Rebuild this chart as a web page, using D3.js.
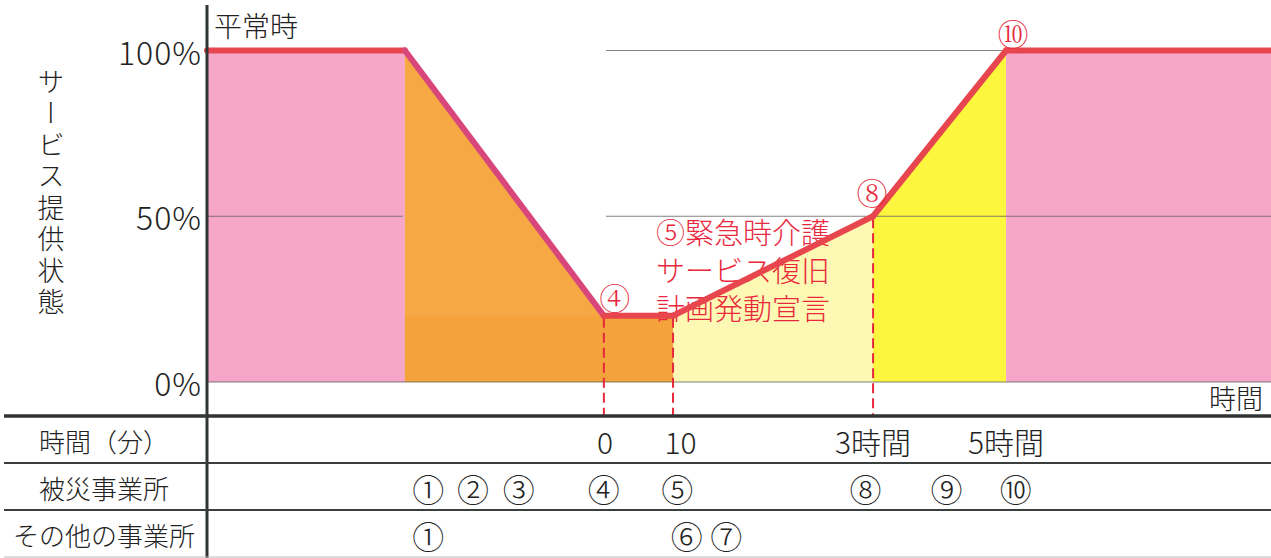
<!DOCTYPE html>
<html><head><meta charset="utf-8">
<script src="https://cdn.jsdelivr.net/npm/d3@7"></script>
<style>
html,body{margin:0;padding:0;background:#fff;}
svg{display:block;font-family:"Noto Sans CJK JP","Noto Sans",sans-serif;font-weight:300;}
</style></head>
<body><svg id="chart" width="1271" height="558"></svg>
<script>
// ---- data ----
const pointNames   = ["開始", "①", "④", "⑤", "⑧", "⑩", "終了"];
const pointTime    = [0, 18.6, 37.3, 43.8, 62.6, 75.1, 100];   // relative time position
const serviceLevel = [100, 100, 20, 20, 50, 100, 100];          // % service provision

const regionNames = ["平常時", "初動", "緊急対応", "復旧", "平常時"];
const regionFrom  = [0, 1, 3, 4, 5];
const regionTo    = [1, 3, 4, 5, 6];

const yTicks = [0, 50, 100];
const gridLevel = [100, 50, 50, 0];
const gridFrom  = [37.5, 0, 37.5, 0];
const gridTo    = [75.1, 18.4, 100, 100];

const dashedAt = [2, 3, 4];   // indices into points

const markerLabels = ["④", "⑧", "⑩"];
const markerPoint  = [2, 4, 5];

const noteLines = ["⑤緊急時介護", "サービス復旧", "計画発動宣言"];

const rowLabels = ["時間（分）", "被災事業所", "その他の事業所"];
const timeTickLabels = ["0", "10", "3時間", "5時間"];
const timeTickPos    = [37.4, 44.5, 62.6, 75.1];
const affectedLabels = ["①", "②", "③", "④", "⑤", "⑧", "⑨", "⑩"];
const affectedPos    = [20.8, 25.0, 29.3, 37.3, 44.2, 61.9, 69.5, 76.0];
const otherLabels = ["①", "⑥", "⑦"];
const otherPos    = [20.8, 45.1, 48.8];

// ---- styles ----
const regionColors = ["#f5a6c9", "#f5a843", "#fdf8b4", "#fdf63e", "#f5a6c9"];
const segColors = ["#e8464e", "#d9467c", "#e8464e", "#e8464e", "#e8464e", "#e8464e"];
const red = "#e8283c";

// ---- layout ----
const svg = d3.select("#chart");
const x = d3.scaleLinear().domain([0, 100]).range([207, 1271]);
const y = d3.scaleLinear().domain([0, 100]).range([382, 50.5]);
const axisBottom = 416;
const rowY = [416, 463, 510, 557];

const pts = pointTime.map((t, i) => ({t, v: serviceLevel[i], name: pointNames[i]}));

// regions
const area = d3.area().x(d => x(d.t)).y0(y(0)).y1(d => y(d.v));
regionNames.forEach((n, i) => {
  svg.append("path")
    .datum(pts.slice(regionFrom[i], regionTo[i] + 1))
    .attr("d", area)
    .attr("fill", regionColors[i]);
});
// lower shade of the initial-response region (below the 20% floor)
svg.append("rect")
  .attr("x", x(pointTime[1])).attr("width", x(pointTime[3]) - x(pointTime[1]))
  .attr("y", y(serviceLevel[2])).attr("height", y(0) - y(serviceLevel[2]))
  .attr("fill", "#f3a23c");

// gridlines
gridLevel.forEach((lv, i) => {
  svg.append("line")
    .attr("x1", x(gridFrom[i])).attr("x2", x(gridTo[i]))
    .attr("y1", y(lv)).attr("y2", y(lv))
    .attr("stroke", "#5a5a5a").attr("stroke-opacity", 0.75).attr("stroke-width", 1.2);
});

// dashed lines
dashedAt.forEach(i => {
  svg.append("line")
    .attr("x1", x(pointTime[i])).attr("x2", x(pointTime[i]))
    .attr("y1", y(serviceLevel[i]) + 2).attr("y2", axisBottom)
    .attr("stroke", red).attr("stroke-width", 2).attr("stroke-dasharray", "10,5");
});

// note text (behind the line)
const note = svg.append("text")
  .attr("fill", red).attr("font-size", 29);
noteLines.forEach((s, i) => {
  note.append("tspan").attr("x", 656).attr("y", 244 + i * 38).text(s);
});

// service line
for (let i = 0; i < pts.length - 1; i++) {
  svg.append("line")
    .attr("x1", x(pts[i].t)).attr("y1", y(pts[i].v))
    .attr("x2", x(pts[i + 1].t)).attr("y2", y(pts[i + 1].v))
    .attr("stroke", segColors[i]).attr("stroke-width", 6)
    .attr("stroke-linecap", "round");
}

// marker labels
const markerOffset = [[11, -19], [-1, -25], [7, -18]];
markerLabels.forEach((m, i) => {
  const p = pts[markerPoint[i]];
  svg.append("text")
    .attr("x", x(p.t) + markerOffset[i][0]).attr("y", y(p.v) + markerOffset[i][1])
    .attr("text-anchor", "middle").attr("dominant-baseline", "central")
    .attr("fill", red).attr("font-size", 31)
    .attr("font-family", "'Noto Serif CJK JP','DejaVu Serif',serif")
    .text(m);
});

// 平常時 label
svg.append("text").attr("x", 214).attr("y", 37).attr("font-size", 28).attr("fill", "#222").text(regionNames[0]);

// y axis ticks
yTicks.forEach(t => {
  svg.append("text").attr("x", 202).attr("y", y(t))
    .attr("text-anchor", "end").attr("dominant-baseline", "central")
    .attr("font-size", 32).attr("fill", "#222").attr("letter-spacing", 1)
    .text(t + "%");
});

// y axis title (vertical)
svg.append("text")
  .attr("x", 51).attr("y", 68)
  .attr("font-size", 27).attr("fill", "#222")
  .style("writing-mode", "vertical-rl")
  .style("text-orientation", "upright")
  .attr("letter-spacing", 4.5)
  .text("サービス提供状態");

// x axis title
svg.append("text").attr("x", 1263).attr("y", 409).attr("text-anchor", "end")
  .attr("font-size", 27).attr("fill", "#222").text("時間");

// axes / table lines
svg.append("line").attr("x1", 207).attr("x2", 207).attr("y1", 5).attr("y2", 558)
  .attr("stroke", "#2e3533").attr("stroke-width", 3);
svg.append("line").attr("x1", 4).attr("x2", 1271).attr("y1", axisBottom).attr("y2", axisBottom)
  .attr("stroke", "#2e3533").attr("stroke-width", 3.5);
[rowY[1], rowY[2]].forEach(yy => {
  svg.append("line").attr("x1", 4).attr("x2", 1271).attr("y1", yy).attr("y2", yy)
    .attr("stroke", "#3a3f3e").attr("stroke-width", 2);
});
svg.append("line").attr("x1", 4).attr("x2", 1271).attr("y1", rowY[3]).attr("y2", rowY[3])
  .attr("stroke", "#bbb").attr("stroke-width", 1);

// table row labels
rowLabels.forEach((s, i) => {
  svg.append("text").attr("x", 104).attr("y", (rowY[i] + rowY[i + 1]) / 2 + 1)
    .attr("text-anchor", "middle").attr("dominant-baseline", "central")
    .attr("font-size", 26).attr("fill", "#222").text(s);
});

function rowText(labels, pos, row, size) {
  labels.forEach((s, i) => {
    svg.append("text").attr("x", x(pos[i])).attr("y", (rowY[row] + rowY[row + 1]) / 2 + 1)
      .attr("text-anchor", "middle").attr("dominant-baseline", "central")
      .attr("font-size", size).attr("fill", "#222").text(s);
  });
}
rowText(timeTickLabels, timeTickPos, 0, 30);
rowText(affectedLabels, affectedPos, 1, 32);
rowText(otherLabels, otherPos, 2, 32);
</script></body></html>
